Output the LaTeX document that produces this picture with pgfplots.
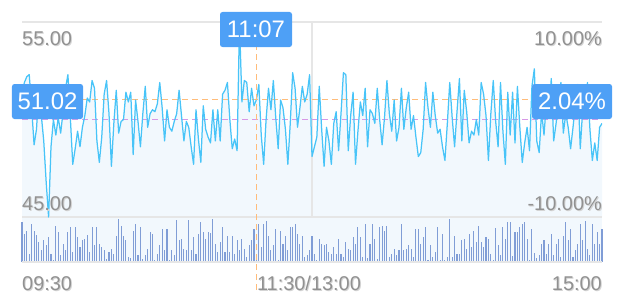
\documentclass[border=0pt]{standalone}
\usepackage{pgfplots}
\pgfplotsset{compat=1.18}
\usepackage{pgfplotstable}
\usepackage{fontspec}
\setmainfont{Liberation Sans}
\definecolor{linec}{RGB}{72,196,248}
\definecolor{fillc}{RGB}{242,248,253}
\definecolor{gridc}{RGB}{230,230,230}
\definecolor{volc}{RGB}{128,157,214}
\definecolor{boxc}{RGB}{78,160,246}
\definecolor{orangec}{RGB}{255,188,122}
\definecolor{purplec}{RGB}{216,152,230}
\definecolor{labc}{RGB}{145,145,145}
\definecolor{shadc}{RGB}{212,212,212}

\pgfplotstableread{
i p v
0 51.4 90
1 51.9 64
2 52.2 71
3 52.3 18
4 50.6 86
5 48.7 71
6 49.5 62
7 51.6 45
8 50.2 27
9 48.9 49
10 46.8 38
11 45.0 56
12 48.6 18
13 50.0 4
14 49.2 82
15 50.1 67
16 49.3 16
17 50.4 41
18 51.6 27
19 52.3 67
20 50.1 79
21 47.7 23
22 48.5 79
23 49.4 56
24 48.6 34
25 49.6 49
26 50.2 53
27 51.1 62
28 50.9 23
29 52.0 79
30 51.6 38
31 48.9 79
32 47.8 41
33 49.1 34
34 51.3 27
35 52.0 6
36 50.3 23
37 47.6 30
38 49.8 19
39 51.5 60
40 49.3 97
41 49.9 82
42 50.0 60
43 51.4 49
44 50.9 12
45 51.4 10
46 48.2 71
47 51.0 86
48 49.9 15
49 48.6 79
50 50.3 7
51 51.7 16
52 49.6 30
53 50.3 67
54 50.5 64
55 50.4 4
56 50.8 18
57 51.9 38
58 50.6 75
59 48.9 27
60 50.5 75
61 49.6 4
62 49.4 27
63 49.9 16
64 50.3 95
65 51.5 50
66 50.2 53
67 48.9 30
68 49.9 27
69 49.6 95
70 48.6 27
71 47.7 56
72 50.5 19
73 49.0 64
74 47.8 90
75 50.7 67
76 49.5 53
77 49.1 67
78 48.8 65
79 50.5 97
80 48.9 41
81 50.5 23
82 48.9 45
83 51.3 79
84 51.5 23
85 51.9 60
86 50.0 23
87 48.5 60
88 49.0 19
89 48.4 49
90 55.0 27
91 50.9 53
92 52.0 30
93 51.9 12
94 50.4 38
95 51.6 49
96 50.7 75
97 51.02 4
98 51.8 87
99 49.2 34
100 47.7 86
101 50.0 92
102 51.6 60
103 50.5 27
104 52.0 38
105 50.1 75
106 48.5 4
107 51.0 71
108 50.6 41
109 49.5 59
110 47.7 27
111 49.8 79
112 52.4 79
113 51.6 86
114 49.6 64
115 50.6 41
116 51.7 60
117 50.9 12
118 51.3 16
119 52.3 27
120 48.1 60
121 48.6 19
122 49.1 4
123 51.7 53
124 49.5 41
125 47.6 38
126 49.6 41
127 48.9 23
128 47.7 19
129 49.8 34
130 50.4 19
131 48.4 53
132 50.3 19
133 52.4 12
134 52.3 45
135 48.4 30
136 50.2 27
137 51.4 56
138 47.7 41
139 49.4 79
140 50.9 56
141 50.2 12
142 51.6 86
143 48.6 8
144 50.5 41
145 50.3 86
146 49.8 53
147 51.6 7
148 50.0 79
149 48.7 82
150 50.1 71
151 52.0 82
152 50.3 12
153 49.4 19
154 51.0 30
155 48.9 16
156 49.6 27
157 51.6 86
158 49.5 27
159 50.6 30
160 51.4 38
161 49.5 30
162 50.2 12
163 49.1 74
164 48.1 74
165 48.3 41
166 49.5 56
167 51.9 80
168 50.6 4
169 49.6 38
170 51.4 12
171 50.2 23
172 49.3 79
173 49.5 4
174 48.6 64
175 47.9 4
176 49.8 12
177 51.9 97
178 50.1 12
179 48.6 59
180 50.4 19
181 52.1 19
182 48.9 49
183 51.5 53
184 50.4 30
185 48.8 64
186 49.4 34
187 49.2 71
188 50.0 45
189 49.2 82
190 51.9 45
191 51.3 34
192 50.2 56
193 47.9 53
194 50.3 18
195 52.0 4
196 49.9 77
197 48.6 38
198 51.9 16
199 49.4 79
200 47.7 53
201 51.4 91
202 49.2 91
203 51.4 13
204 48.8 67
205 51.7 67
206 49.6 79
207 47.8 86
208 48.8 90
209 49.6 53
210 48.4 4
211 51.7 75
212 52.6 21
213 48.9 10
214 48.3 16
215 50.4 41
216 49.2 49
217 50.9 19
218 50.2 40
219 52.1 64
220 48.9 16
221 49.8 41
222 51.0 53
223 51.9 12
224 49.3 60
225 50.3 90
226 49.6 50
227 48.5 74
228 49.6 12
229 50.8 28
230 51.8 41
231 48.5 86
232 50.5 49
233 50.9 93
234 51.9 30
235 49.5 15
236 47.9 86
237 48.8 41
238 47.9 69
239 49.6 41
240 49.8 74
}\data

\newcommand{\lab}[3]{%
  \node[anchor=#1, text=shadc, inner sep=0pt, xshift=1bp, yshift=-1.4bp] at #2 {#3};
  \node[anchor=#1, text=labc, inner sep=0pt] at #2 {#3};
}

\begin{document}
\begin{tikzpicture}[x=1bp,y=1bp, every node/.style={font=\fontsize{20}{24}\selectfont}]
\useasboundingbox (0,0) rectangle (630,306);

% volume panel
\begin{axis}[at={(22bp,44bp)}, anchor=south west, scale only axis,
  width=580bp, height=45bp, xmin=0, xmax=240, ymin=0, ymax=102,
  hide axis, clip=false]
  \fill[fillc] (rel axis cs:0,0) rectangle (rel axis cs:1,1);
  \addplot[ycomb, volc, line width=1.05bp, mark=none] table[x=i,y=v]{\data};
  \draw[gridc, line width=1.2bp] (rel axis cs:0,0) -- (rel axis cs:1,0);
\end{axis}

% price panel
\begin{axis}[at={(22bp,89bp)}, anchor=south west, scale only axis,
  width=580bp, height=195bp, xmin=0, xmax=240, ymin=45, ymax=55,
  hide axis, clip mode=individual]
  \addplot[fill=fillc, draw=none] table[x=i,y=p]{\data} \closedcycle;
  \draw[gridc, line width=1.2bp] (axis cs:0,55) -- (axis cs:240,55);
  \draw[gridc, line width=1.2bp] (axis cs:0,45) -- (axis cs:240,45);
  \draw[gridc, line width=1.2bp] (axis cs:120,45) -- (axis cs:120,55);
  \draw[purplec, line width=1.6bp, dash pattern=on 6bp off 4bp] (axis cs:0,50) -- (axis cs:240,50);
  \draw[orangec, line width=1.6bp, dash pattern=on 6bp off 4bp] (axis cs:0,51.02) -- (axis cs:240,51.02);
  \addplot[linec, line width=1.25bp, mark=none, line join=round] table[x=i,y=p]{\data};
\end{axis}

% crosshair vertical
\draw[orangec, line width=1.6bp, dash pattern=on 6bp off 4bp] (256.4,16) -- (256.4,262);

% labels
\lab{base west}{(22,261)}{55.00}
\lab{base east}{(602,261)}{10.00\%}
\lab{base west}{(22,96)}{45.00}
\lab{base east}{(602,96)}{-10.00\%}
\lab{base west}{(22,16)}{09:30}
\lab{base}{(309,16)}{11:30/13:00}
\lab{base east}{(602,16)}{15:00}

% boxes
\node[fill=boxc, rounded corners=2.5bp, minimum width=72bp, minimum height=35bp, text=white, inner sep=0pt, font=\fontsize{24}{28}\selectfont] at (256,276.5) {11:07};
\node[fill=boxc, rounded corners=2.5bp, minimum width=71bp, minimum height=35bp, text=white, inner sep=0pt, font=\fontsize{24}{28}\selectfont] at (47.5,204.5) {51.02};
\node[fill=boxc, rounded corners=2.5bp, minimum width=80bp, minimum height=35bp, text=white, inner sep=0pt, font=\fontsize{24}{28}\selectfont] at (572,204.5) {2.04\%};
\end{tikzpicture}
\end{document}
